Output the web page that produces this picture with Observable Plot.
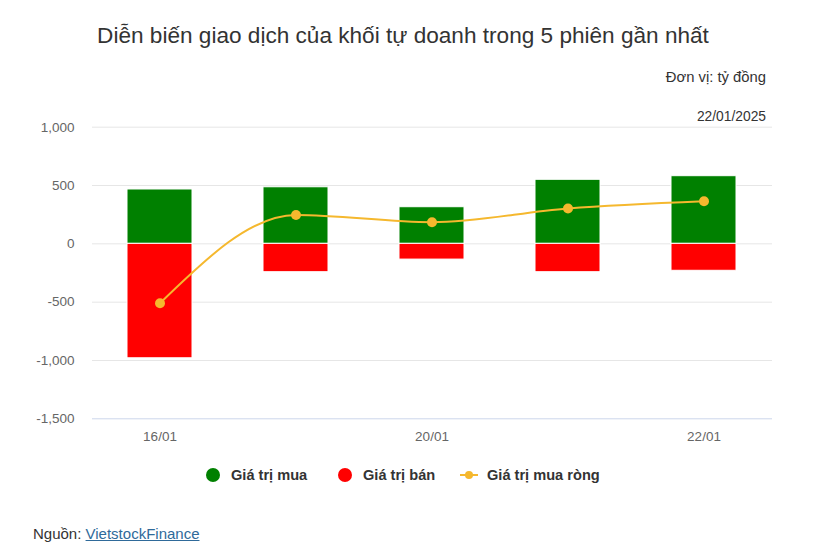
<!DOCTYPE html>
<html><head><meta charset="utf-8">
<script src="https://cdn.jsdelivr.net/npm/d3@7"></script>
<script src="https://cdn.jsdelivr.net/npm/@observablehq/plot@0.6"></script>
<style>
body{margin:0;background:#fff;font-family:"Liberation Sans",Arial,sans-serif;color:#333;}
#wrap{position:relative;width:837px;height:552px;overflow:hidden;}
.abs{position:absolute;white-space:nowrap;}
#title{left:0;width:806px;text-align:center;top:23px;font-size:22.6px;color:#333;}
#unit{right:71px;top:69px;font-size:14.8px;color:#333;}
#date{right:71px;top:109px;font-size:13.8px;color:#333;}
#chart{left:0;top:100px;}
#legend{top:466px;left:0;width:837px;font-size:14.6px;font-weight:bold;color:#333;}
.li{position:absolute;top:0;display:flex;align-items:center;height:18px;}
.dot{width:14px;height:14px;border-radius:50%;display:inline-block;margin-right:11px;}
#src{left:33px;top:525px;font-size:15px;color:#333;}
#src a{color:#2f6a9a;text-decoration:underline;}
</style></head>
<body><div id="wrap">
<div id="title" class="abs">Diễn biến giao dịch của khối tự doanh trong 5 phiên gần nhất</div>
<div id="unit" class="abs">Đơn vị: tỷ đồng</div>
<div id="date" class="abs">22/01/2025</div>
<div id="chart" class="abs"></div>
<div id="legend" class="abs">
  <div class="li" style="left:206px"><span class="dot" style="background:#008000"></span>Giá trị mua</div>
  <div class="li" style="left:338px"><span class="dot" style="background:#ff0000"></span>Giá trị bán</div>
  <div class="li" style="left:460px"><svg width="18" height="14" style="margin-right:9px"><line x1="0" x2="18" y1="7" y2="7" stroke="#f5b82e" stroke-width="2"/><circle cx="9" cy="7" r="4" fill="#f5b82e"/></svg>Giá trị mua ròng</div>
</div>
<div id="src" class="abs">Nguồn: <a href="#">VietstockFinance</a></div>
</div>
<script>
const sessions = ["16/01","17/01","20/01","21/01","22/01"];
const buyValues = [466, 485, 314, 549, 580];
const sellValues = [-981, -243, -135, -243, -231];
const netValues = [-509, 248, 185, 303, 365];
const yTicks = [-1500, -1000, -500, 0, 500, 1000];
const xTickLabels = ["16/01","20/01","22/01"];

const buy = sessions.map((s,i)=>({s, v: buyValues[i]}));
const sell = sessions.map((s,i)=>({s, v: sellValues[i]}));
const net = sessions.map((s,i)=>({s, v: netValues[i]}));
const fmt = d3.formatLocale({decimal:".", thousands:",", grouping:[3], currency:["",""], minus:"-"}).format(",");
const lineColor = "#f5b82e";

const plot = Plot.plot({
  width: 837,
  height: 360,
  marginLeft: 92,
  marginRight: 65,
  marginTop: 26.7,
  marginBottom: 41.7,
  style: {fontFamily: '"Liberation Sans", Arial, sans-serif', fontSize: "13.5px", color: "#666", background: "transparent"},
  x: {type: "band", domain: sessions, paddingInner: 0.52, paddingOuter: 0.26, label: null},
  y: {domain: [-1500, 1000], label: null},
  marks: [
    Plot.ruleY(yTicks.filter(d => d !== -1500), {stroke: "#e6e6e6", strokeWidth: 1}),
    Plot.ruleY([-1500], {stroke: "#ccd6eb", strokeWidth: 1}),
    Plot.barY(buy, {x: "s", y: "v", fill: "#008000", stroke: "#fff", strokeWidth: 1}),
    Plot.barY(sell, {x: "s", y: "v", fill: "#ff0000", stroke: "#fff", strokeWidth: 1}),
    Plot.line(net, {x: "s", y: "v", stroke: lineColor, strokeWidth: 2, curve: "monotone-x"}),
    Plot.dot(net, {x: "s", y: "v", fill: lineColor, r: 5}),
    Plot.axisY({ticks: yTicks, tickFormat: fmt, tickSize: 0, tickPadding: 18, fill: "#666", fontSize: 13.5}),
    Plot.axisX({ticks: xTickLabels, tickSize: 0, tickPadding: 13, fill: "#666", fontSize: 13.5})
  ]
});
document.getElementById("chart").appendChild(plot);
</script>
</body></html>
